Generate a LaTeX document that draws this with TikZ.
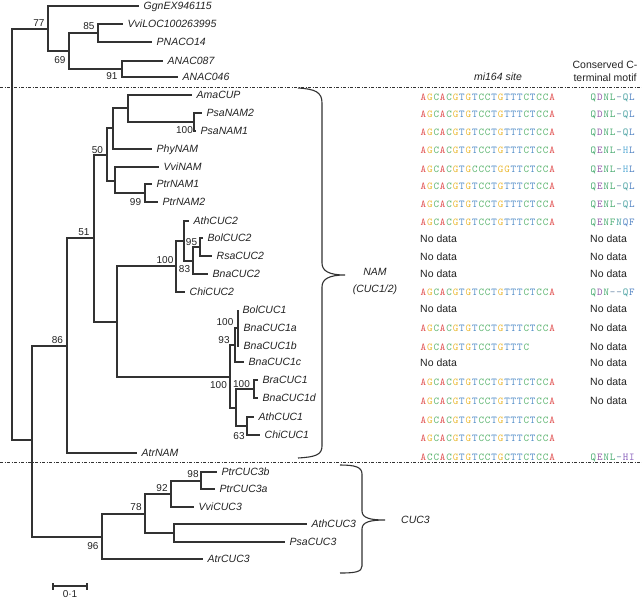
\documentclass[tikz,border=0pt]{standalone}
\usepackage{fontspec}
\setmainfont{Liberation Sans}
\definecolor{treec}{RGB}{50,50,50}
\definecolor{txt}{RGB}{35,35,35}
\definecolor{ntA}{RGB}{225,80,80}
\definecolor{ntG}{RGB}{235,185,50}
\definecolor{ntC}{RGB}{90,180,110}
\definecolor{ntT}{RGB}{80,140,200}
\definecolor{mg}{RGB}{70,170,110}
\definecolor{mp}{RGB}{150,90,170}
\definecolor{mb}{RGB}{80,130,195}
\definecolor{mc}{RGB}{95,175,215}
\definecolor{mt}{RGB}{70,160,160}
\definecolor{md}{RGB}{110,140,170}
\definecolor{mv}{RGB}{140,100,190}
\ExplSyntaxOn
\NewDocumentCommand\sq{m}{\tl_map_inline:nn {#1} {\makebox[6.43pt][c]{\textcolor{nt##1}{##1}}}}
\ExplSyntaxOff
\newcommand\mq[2]{\makebox[6.43pt][c]{\textcolor{m#1}{#2}}}
\tikzset{
 br/.style={line width=1.1pt, draw=treec, line join=miter},
 leaf/.style={anchor=west, inner xsep=4.5pt, inner ysep=0pt, font=\fontsize{10.5}{12}\selectfont\itshape, text height=7.5pt, text depth=0pt, text=txt},
 bs/.style={inner sep=0pt, font=\fontsize{10}{12}\selectfont, text height=7pt, text depth=0pt, text=txt},
 seqn/.style={anchor=west, inner sep=0pt, font=\ttfamily\fontsize{10.5}{12}\selectfont, text height=6.5pt, text depth=0pt},
 nod/.style={anchor=west, inner sep=0pt, font=\fontsize{10.5}{12}\selectfont, text height=7.5pt, text depth=0pt, text=txt},
 sepline/.style={line width=0.9pt, draw=treec, dash pattern=on 3pt off 1.5pt on 1pt off 1.5pt},
 bracepath/.style={line width=1.1pt, draw=treec},
}
\begin{document}
\begin{tikzpicture}[x=1pt,y=-1pt]
\fill[white] (0,0) rectangle (642,600);
\useasboundingbox (0,0) rectangle (642,600);
% internal nodes
\coordinate (root) at (12,234);
\coordinate (n77) at (48,29);
\coordinate (n69) at (69,51);
\coordinate (n85) at (98,33);
\coordinate (n91) at (122,69);
\coordinate (nIn) at (32,440);
\coordinate (n86) at (67,346);
\coordinate (n51) at (94,238);
\coordinate (n50) at (107,155);
\coordinate (nA) at (113,128);
\coordinate (nY) at (128,108);
\coordinate (nPsa) at (194,122);
\coordinate (nZ) at (115,181);
\coordinate (nPtr) at (145,193);
\coordinate (nCUC) at (117,322);
\coordinate (nC2) at (176,266);
\coordinate (nB) at (184,241);
\coordinate (n83) at (193,261);
\coordinate (n95) at (200,247);
\coordinate (nC1) at (230,377);
\coordinate (n93) at (235,345);
\coordinate (nBol) at (238,328);
\coordinate (nL) at (236,408);
\coordinate (nBra) at (254,389);
\coordinate (n63) at (247,426);
\coordinate (n96) at (102,537);
\coordinate (n78) at (145,514);
\coordinate (n92) at (171,494);
\coordinate (n98) at (201,481);
\coordinate (nAP) at (174,533);
% leaves
\node[leaf] (ggn) at (139,6) {GgnEX946115};
\node[leaf] (vvil) at (123,24) {VviLOC100263995};
\node[leaf] (pnaco) at (152,42) {PNACO14};
\node[leaf] (anac87) at (163,61) {ANAC087};
\node[leaf] (anac46) at (178,77) {ANAC046};
\node[leaf] (ama) at (192,95) {AmaCUP};
\node[leaf] (psa2) at (202,113) {PsaNAM2};
\node[leaf] (psa1) at (196,131) {PsaNAM1};
\node[leaf] (phy) at (152,149) {PhyNAM};
\node[leaf] (vvinam) at (159,167) {VviNAM};
\node[leaf] (ptr1) at (152,184) {PtrNAM1};
\node[leaf] (ptr2) at (158,202) {PtrNAM2};
\node[leaf] (ath2) at (189,221) {AthCUC2};
\node[leaf] (bol2) at (203,238) {BolCUC2};
\node[leaf] (rsa2) at (212,256) {RsaCUC2};
\node[leaf] (bna2) at (208,274) {BnaCUC2};
\node[leaf] (chi2) at (185,292) {ChiCUC2};
\node[leaf] (bol1) at (238,310) {BolCUC1};
\node[leaf] (bna1a) at (239,328) {BnaCUC1a};
\node[leaf] (bna1b) at (239,346) {BnaCUC1b};
\node[leaf] (bna1c) at (244,362) {BnaCUC1c};
\node[leaf] (bra1) at (258,380) {BraCUC1};
\node[leaf] (bna1d) at (258,398) {BnaCUC1d};
\node[leaf] (ath1) at (254,417) {AthCUC1};
\node[leaf] (chi1) at (260,435) {ChiCUC1};
\node[leaf] (atrnam) at (137,453) {AtrNAM};
\node[leaf] (ptr3b) at (217,472) {PtrCUC3b};
\node[leaf] (ptr3a) at (215,489) {PtrCUC3a};
\node[leaf] (vvic3) at (194,507) {VviCUC3};
\node[leaf] (ath3) at (307,524) {AthCUC3};
\node[leaf] (psa3) at (285,542) {PsaCUC3};
\node[leaf] (atrc3) at (203,559) {AtrCUC3};
% branches
\foreach \p/\c in {root/n77, root/nIn, n77/ggn, n77/n69, n69/n85, n69/n91,
  n85/vvil, n85/pnaco, n91/anac87, n91/anac46, nIn/n86, nIn/n96,
  n86/n51, n86/atrnam, n51/n50, n51/nCUC, n50/nA, n50/nZ, nA/nY, nA/phy,
  nY/ama, nY/nPsa, nPsa/psa2, nPsa/psa1, nZ/vvinam, nZ/nPtr, nPtr/ptr1, nPtr/ptr2,
  nCUC/nC2, nCUC/nC1, nC2/nB, nC2/chi2, nB/ath2, nB/n83, n83/n95, n83/bna2,
  n95/bol2, n95/rsa2, nC1/n93, nC1/nL, n93/nBol, n93/bna1c, nBol/bol1, nBol/bna1a,
  nBol/bna1b, nL/nBra, nL/n63, nBra/bra1, nBra/bna1d, n63/ath1, n63/chi1,
  n96/n78, n96/atrc3, n78/n92, n78/nAP, n92/n98, n92/vvic3, n98/ptr3b, n98/ptr3a,
  nAP/ath3, nAP/psa3}
  \draw[br] (\p) |- (\c);
% bootstrap values
\node[bs] (b77) at (39,23) {77};
\node[bs] (b85) at (89,26) {85};
\node[bs] (b69) at (60,60) {69};
\node[bs] (b91) at (112,76) {91};
\node[bs] (b100psa) at (184.5,130) {100};
\node[bs] (b50) at (97.5,149.5) {50};
\node[bs] (b99) at (135.5,202) {99};
\node[bs] (b51) at (84,232) {51};
\node[bs] (b100c2) at (165,260) {100};
\node[bs] (b95) at (191.5,241.5) {95};
\node[bs] (b83) at (184.5,268.5) {83};
\node[bs] (b100bol) at (225,321.5) {100};
\node[bs] (b93) at (224,339.5) {93};
\node[bs] (b86) at (57.5,339.5) {86};
\node[bs] (b100c1) at (218.5,385) {100};
\node[bs] (b100bra) at (241.5,383.5) {100};
\node[bs] (b63) at (239,436) {63};
\node[bs] (b98) at (193,474) {98};
\node[bs] (b92) at (162,487.5) {92};
\node[bs] (b78) at (136,507) {78};
\node[bs] (b96) at (93,545.5) {96};
% separators
\coordinate (d1L) at (0,87); \coordinate (d1R) at (642,87);
\coordinate (d2L) at (0,462); \coordinate (d2R) at (642,462);
\draw[sepline] (d1L) -- (d1R);
\draw[sepline] (d2L) -- (d2R);
% headers
\node[inner sep=0pt, font=\fontsize{10.5}{12}\selectfont\itshape, text=txt] (hmi) at (498,77) {mi164 site};
\node[inner sep=0pt, align=center, font=\fontsize{10.5}{13}\selectfont, text=txt] (hcons) at (605,71.5) {Conserved C-\\terminal motif};
% sequences
\node[seqn] (s1) at (420,97) {\sq{AGCACGTGTCCTGTTTCTCCA}};
\node[seqn] (s2) at (420,114) {\sq{AGCACGTGTCCTGTTTCTCCA}};
\node[seqn] (s3) at (420,132) {\sq{AGCACGTGTCCTGTTTCTCCA}};
\node[seqn] (s4) at (420,150) {\sq{AGCACGTGTCCTGTTTCTCCA}};
\node[seqn] (s5) at (420,169) {\sq{AGCACGTGCCCTGGTTCTCCA}};
\node[seqn] (s6) at (420,186) {\sq{AGCACGTGTCCTGTTTCTCCA}};
\node[seqn] (s7) at (420,204) {\sq{AGCACGTGTCCTGTTTCTCCA}};
\node[seqn] (s8) at (420,222) {\sq{AGCACGTGTCCTGTTTCTCCA}};
\node[nod] (s9) at (420,239) {No data};
\node[nod] (s10) at (420,257) {No data};
\node[nod] (s11) at (420,274) {No data};
\node[seqn] (s12) at (420,292) {\sq{AGCACGTGTCCTGTTTCTCCA}};
\node[nod] (s13) at (420,309) {No data};
\node[seqn] (s14) at (420,328) {\sq{AGCACGTGTCCTGTTTCTCCA}};
\node[seqn] (s15) at (420,347) {\sq{AGCACGTGTCCTGTTTC}};
\node[nod] (s16) at (420,363) {No data};
\node[seqn] (s17) at (420,382) {\sq{AGCACGTGTCCTGTTTCTCCA}};
\node[seqn] (s18) at (420,401) {\sq{AGCACGTGTCCTGTTTCTCCA}};
\node[seqn] (s19) at (420,420) {\sq{AGCACGTGTCCTGTTTCTCCA}};
\node[seqn] (s20) at (420,438) {\sq{AGCACGTGTCCTGTTTCTCCA}};
\node[seqn] (s21) at (420,457) {\sq{ACCACGTGTCCTGCTTCTCCA}};
% motifs
\node[seqn] (m1) at (590,97) {\mq gQ\mq pD\mq gN\mq gL\mq d-\mq tQ\mq bL};
\node[seqn] (m2) at (590,114) {\mq gQ\mq pD\mq gN\mq gL\mq d-\mq tQ\mq bL};
\node[seqn] (m3) at (590,132) {\mq gQ\mq pD\mq gN\mq gL\mq d-\mq tQ\mq bL};
\node[seqn] (m4) at (590,150) {\mq gQ\mq pE\mq gN\mq gL\mq d-\mq cH\mq bL};
\node[seqn] (m5) at (590,169) {\mq gQ\mq pE\mq gN\mq gL\mq d-\mq cH\mq bL};
\node[seqn] (m6) at (590,186) {\mq gQ\mq pE\mq gN\mq gL\mq d-\mq tQ\mq bL};
\node[seqn] (m7) at (590,204) {\mq gQ\mq pE\mq gN\mq gL\mq d-\mq tQ\mq bL};
\node[seqn] (m8) at (590,222) {\mq gQ\mq pE\mq gN\mq gF\mq tN\mq bQ\mq bF};
\node[nod] (m9) at (590,239) {No data};
\node[nod] (m10) at (590,257) {No data};
\node[nod] (m11) at (590,274) {No data};
\node[seqn] (m12) at (590,292) {\mq gQ\mq pD\mq gN\mq d-\mq d-\mq tQ\mq bF};
\node[nod] (m13) at (590,309) {No data};
\node[nod] (m14) at (590,328) {No data};
\node[nod] (m15) at (590,347) {No data};
\node[nod] (m16) at (590,363) {No data};
\node[nod] (m17) at (590,382) {No data};
\node[nod] (m18) at (590,401) {No data};
\node[seqn] (m21) at (590,457) {\mq gQ\mq pE\mq gN\mq gL\mq d-\mq vH\mq vI};
% braces
\draw[bracepath] (298,88) .. controls (315,89) and (322,92) .. (322,103)
  -- (322,263) .. controls (322,271) and (329,275) .. (345,275)
  .. controls (329,275) and (322,279) .. (322,287)
  -- (322,446) .. controls (322,455) and (315,457) .. (298,458);
\node[inner sep=0pt, align=center, font=\fontsize{10.5}{17}\selectfont\itshape, text=txt] (nam) at (375,281) {NAM\\(CUC1/2)};
\draw[bracepath] (340,465) .. controls (355,465) and (362,467) .. (362,474)
  -- (362,511) .. controls (362,518) and (370,520) .. (385,520)
  .. controls (370,520) and (362,522) .. (362,529)
  -- (362,566) .. controls (362,572) and (355,573) .. (340,573);
\node[nod, font=\fontsize{10.5}{12}\selectfont\itshape] (cuc3) at (401,520) {CUC3};
% scale bar
\coordinate (sbL) at (53,586); \coordinate (sbR) at (87,586);
\draw[line width=1.1pt, draw=treec] (sbL) -- (sbR);
\draw[line width=1.1pt, draw=treec] ([yshift=-3.5pt]sbL) -- ([yshift=3.5pt]sbL);
\draw[line width=1.1pt, draw=treec] ([yshift=-3.5pt]sbR) -- ([yshift=3.5pt]sbR);
\node[bs] (sblab) at (70,594) {0·1};
\end{tikzpicture}
\end{document}
